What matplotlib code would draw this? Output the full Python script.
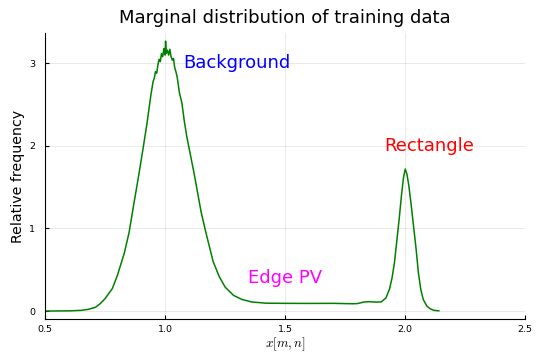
import matplotlib
import matplotlib.pyplot as plt
matplotlib.use('Agg')

plt.rcParams['mathtext.fontset'] = 'cm'

# marginal density
x_vals = [0.50, 0.60, 0.65, 0.68, 0.71, 0.73, 0.75, 0.78, 0.80, 0.83,
          0.85, 0.87, 0.89, 0.91, 0.925, 0.94, 0.95, 0.955, 0.96, 0.965,
          0.97, 0.975, 0.98, 0.985, 0.99, 0.995, 1.000, 1.002, 1.005, 1.01,
          1.015, 1.02, 1.025, 1.03, 1.035, 1.04, 1.045, 1.05, 1.06, 1.07,
          1.08, 1.09, 1.10, 1.12, 1.15, 1.17, 1.20, 1.225, 1.25, 1.285,
          1.32, 1.36, 1.42, 1.50, 1.60, 1.70, 1.78, 1.80, 1.83, 1.85,
          1.88, 1.90, 1.92, 1.935, 1.945, 1.955, 1.965, 1.975, 1.985, 1.993,
          2.000, 2.007, 2.015, 2.025, 2.035, 2.045, 2.055, 2.065, 2.075, 2.09,
          2.105, 2.12, 2.14]
freq = [0.0, 0.002, 0.008, 0.02, 0.045, 0.09, 0.15, 0.27, 0.42, 0.70,
        0.95, 1.30, 1.64, 2.00, 2.28, 2.60, 2.78, 2.82, 2.90, 2.88,
        2.98, 3.05, 3.02, 3.12, 3.08, 3.18, 3.10, 3.27, 3.12, 3.16,
        3.10, 3.17, 3.08, 3.04, 3.06, 2.95, 2.90, 2.84, 2.64, 2.52,
        2.30, 2.12, 1.97, 1.68, 1.20, 0.95, 0.60, 0.42, 0.29, 0.19,
        0.14, 0.11, 0.095, 0.093, 0.092, 0.093, 0.088, 0.09, 0.11, 0.113,
        0.108, 0.11, 0.16, 0.27, 0.40, 0.58, 0.85, 1.12, 1.42, 1.62,
        1.72, 1.66, 1.52, 1.28, 1.02, 0.76, 0.46, 0.26, 0.14, 0.06,
        0.025, 0.008, 0.003]

x_ticks = [0.5, 1.0, 1.5, 2.0, 2.5]
y_ticks = [0, 1, 2, 3]

labels = ["Background", "Edge PV", "Rectangle"]
label_x = [1.3, 1.5, 2.1]
label_y = [3.0, 0.4, 2.0]
label_colors = ["blue", "magenta", "red"]


def plot_marginal():
    """plot_marginal"""
    fig = plt.figure(figsize=(5.36, 3.53), dpi=100)
    ax = fig.add_axes([0.084, 0.096, 0.896, 0.811])
    ax.plot(x_vals, freq, color="green", lw=1.1)
    for txt, lx, ly, col in zip(labels, label_x, label_y, label_colors):
        ax.text(lx, ly, txt, color=col, fontsize=13, ha="center", va="center")
    ax.set_xlim(0.5, 2.5)
    ax.set_ylim(-0.098, 3.37)
    ax.set_xticks(x_ticks)
    ax.set_xticklabels(["0.5", "1.0", "1.5", "2.0", "2.5"])
    ax.set_yticks(y_ticks)
    ax.tick_params(direction="in", length=3, width=0.8, labelsize=6.8,
                   colors="black")
    ax.tick_params(axis="y", pad=7)
    ax.tick_params(axis="x", pad=4)
    ax.grid(True, color="black", alpha=0.1, lw=0.6)
    ax.spines["top"].set_visible(False)
    ax.spines["right"].set_visible(False)
    ax.set_xlabel(r"$x[m,n]$", fontsize=9.5, labelpad=1)
    ax.set_ylabel("Relative frequency", fontsize=10.2, labelpad=3)
    ax.set_title("Marginal distribution of training data", fontsize=13, pad=7)
    fig.savefig("out.png", dpi=100)


if __name__ == "__main__":
    plot_marginal()
